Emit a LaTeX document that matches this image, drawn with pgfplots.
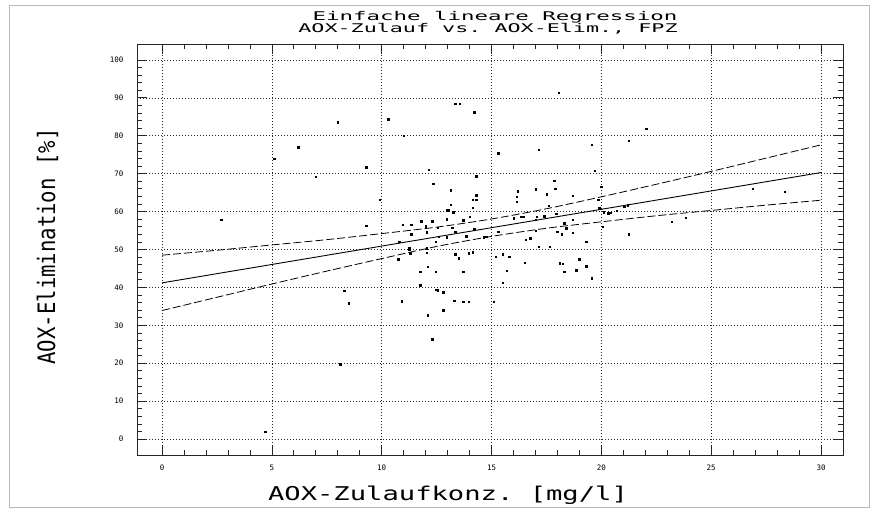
\documentclass[border=0pt]{standalone}
\usepackage{fontspec}
\setmonofont{DejaVu Sans Mono}
\usepackage{pgfplots}
\pgfplotsset{compat=1.18}
\newcommand\tfont[1]{\fontsize{#1}{#1}\selectfont\ttfamily}
\begin{document}
\begin{tikzpicture}[x=1pt,y=1pt]
\path[use as bounding box] (0,0) rectangle (876,512);
\draw[gray!55, line width=1pt] (9,5) rectangle (869,506);
\begin{axis}[
  at={(137pt,57pt)}, anchor=south west,
  scale only axis, width=706pt, height=411pt,
  xmin=-1.14, xmax=31.0, ymin=-4.2, ymax=104.2,
  xtick={0,5,...,30}, ytick={0,10,...,100},
  minor x tick num=4, minor y tick num=4,
  tick pos=both, tick align=inside,
  major tick length=10pt, minor tick length=5pt,
  grid=major,
  major grid style={black!85, dash pattern=on 1pt off 2pt, line width=0.6pt},
  axis line style={black!85, line width=0.9pt},
  every tick/.style={black!85, line width=0.7pt},
  /pgf/number format/assume math mode=true,
  ticklabel style={font=\tfont{7.5}},
  xticklabel style={yshift=-6pt},
  yticklabel style={xshift=-10pt},
]
\addplot[only marks, mark=square*, mark size=0.75pt, black] coordinates {
(4.7,1.9) (2.7,57.8) (5.1,73.9) (6.2,77.0) (7.0,69.2) (8.0,83.6) (8.1,19.8)
(8.3,39.1) (8.5,35.8) (9.3,71.7) (9.9,63.2) (9.3,56.3) (10.3,84.4) (11.0,80.0)
(12.15,71.1) (12.35,67.3) (13.15,65.6) (13.15,61.8) (13.35,88.4) (13.55,88.4)
(14.2,86.2) (14.3,69.3) (14.3,64.3) (14.15,63.1) (14.3,63.1) (12.95,60.4)
(13.05,60.4) (13.25,59.8) (14.15,61.0) (14.0,58.7) (13.7,57.7) (12.95,58.0)
(12.3,57.4) (11.8,57.5) (11.35,56.5) (10.95,56.6) (13.2,55.7) (12.55,55.7)
(12.05,54.5) (12.0,56.2) (11.35,54.0) (13.35,54.7) (13.85,53.5) (12.6,53.4)
(10.8,52.0) (11.25,50.3) (12.05,50.3) (12.45,52.1) (12.95,53.2) (14.2,55.3)
(14.65,53.2) (14.75,53.4) (15.3,54.7) (10.75,47.4) (11.3,49.0) (12.05,49.1)
(13.35,48.8) (13.5,47.7) (13.95,49.0) (14.15,49.3) (11.75,44.1) (12.45,44.1)
(12.1,45.5) (13.7,44.1) (15.2,48.1) (15.5,48.8) (15.8,48.1) (15.7,44.4)
(16.5,46.5) (15.5,41.2) (12.45,39.4) (12.55,39.2) (12.8,38.7) (11.75,40.6)
(10.9,36.3) (13.3,36.5) (13.7,36.2) (13.95,36.2) (15.1,36.2) (12.8,34.0)
(12.1,32.7) (12.3,26.3) (18.1,46.4) (18.25,46.2) (18.3,44.1) (19.0,47.4)
(19.3,45.6) (19.55,42.4) (18.85,44.6) (17.65,50.7) (17.15,50.7) (16.75,53.0)
(16.55,52.6) (17.0,54.9) (18.0,54.7) (18.2,54.1) (18.4,55.6) (18.7,57.8)
(19.3,52.1) (18.7,54.4) (18.3,56.9) (17.95,59.5) (17.6,61.5) (17.85,68.1)
(17.5,64.6) (17.9,66.1) (18.7,64.2) (17.0,65.9) (16.2,65.4) (16.15,63.9)
(16.15,62.6) (16.35,58.7) (16.45,58.7) (16.0,58.2) (17.0,57.8) (17.05,58.7)
(17.4,58.8) (19.7,70.8) (20.0,66.6) (19.85,63.1) (19.9,60.9) (20.1,59.9)
(20.3,59.6) (20.4,59.7) (20.7,60.2) (21.05,61.3) (21.2,61.7) (20.05,56.0)
(21.25,54.0) (18.05,91.4) (22.05,81.8) (21.25,78.7) (19.55,77.7) (17.15,76.3)
(15.3,75.4) (26.9,66.1) (28.35,65.3) (23.2,57.3) (23.85,58.4) (11.25,50.1)
};
\addplot[black, line width=0.9pt] coordinates {(0,41.2) (30,70.3)};
\addplot[black, line width=0.8pt, dash pattern=on 8pt off 3pt, smooth] coordinates {
(0,48.5) (2.5,49.8) (5,51.2) (7.5,52.6) (10,54.2) (12.5,55.9) (15,58.05)
(17.5,60.75) (20,63.9) (22.5,67.2) (25,70.6) (27.5,74.1) (30,77.6)};
\addplot[black, line width=0.8pt, dash pattern=on 8pt off 3pt, smooth] coordinates {
(0,33.9) (2.5,37.4) (5,40.9) (7.5,44.3) (10,47.6) (12.5,50.8) (15,53.45)
(17.5,55.6) (20,57.3) (22.5,58.9) (25,60.3) (27.5,61.7) (30,63.0)};
\end{axis}
\node[anchor=base, inner sep=0] at (495,491.5) {\scalebox{1.87}[1]{\tfont{12}Einfache lineare Regression}};
\node[anchor=base, inner sep=0] at (488,479) {\scalebox{1.81}[1]{\tfont{12}AOX-Zulauf vs. AOX-Elim., FPZ}};
\node[anchor=base, inner sep=0] at (448,12) {\scalebox{1.43}[1]{\tfont{19}AOX-Zulaufkonz. [mg/l]}};
\node[anchor=base, rotate=90, inner sep=0] at (55,265.5) {\scalebox{0.86}[1]{\tfont{24}AOX-Elimination [\%]}};
\end{tikzpicture}
\end{document}
